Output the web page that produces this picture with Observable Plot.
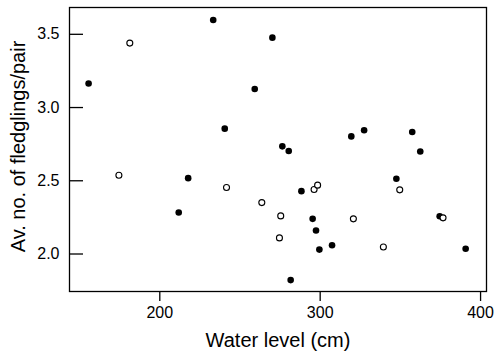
<!DOCTYPE html>
<html>
<head>
<meta charset="utf-8">
<script src="https://cdn.jsdelivr.net/npm/d3@7"></script>
<script src="https://cdn.jsdelivr.net/npm/@observablehq/plot@0.6"></script>
<style>
  html, body { margin: 0; padding: 0; background: #fff; }
  svg { display: block; }
</style>
</head>
<body>
<div id="chart"></div>
<script>
// Filled circles
const filledX = [155.6, 233.3, 240.5, 217.7, 270.2, 259.2, 276.4, 280.4, 319.4, 327.4, 357.4, 362.4, 347.5, 211.8, 288.3, 295.3, 297.4, 299.5, 307.4, 281.6, 374.5, 390.7];
const filledY = [3.164, 3.598, 2.856, 2.518, 3.477, 3.127, 2.735, 2.703, 2.803, 2.845, 2.833, 2.70, 2.514, 2.283, 2.429, 2.24, 2.16, 2.03, 2.06, 1.822, 2.258, 2.036];
// Open circles
const openX = [181.3, 174.5, 241.6, 349.6, 263.6, 296.2, 298.4, 275.4, 274.6, 320.7, 339.4, 376.6];
const openY = [3.44, 2.538, 2.454, 2.438, 2.351, 2.44, 2.47, 2.26, 2.11, 2.24, 2.048, 2.247];

const xTicks = [200, 300, 400];
const yTicks = [2.0, 2.5, 3.0, 3.5];
const xLabel = "Water level (cm)";
const yLabel = "Av. no. of fledglings/pair";

const filled = filledX.map((x, i) => ({x, y: filledY[i]}));
const open = openX.map((x, i) => ({x, y: openY[i]}));

const W = 500, H = 355;
const mL = 69, mR = 14, mT = 7, mB = 64;
const plotW = W - mL - mR;

const chart = Plot.plot({
  width: W,
  height: H,
  marginLeft: mL,
  marginRight: mR,
  marginTop: mT,
  marginBottom: mB,
  style: {fontFamily: "'Liberation Sans', Arial, Helvetica, sans-serif", background: "#fff", color: "#000"},
  x: {domain: [143.7, 403.7]},
  y: {domain: [1.744, 3.683]},
  marks: [
    Plot.frame({stroke: "#000", strokeWidth: 1.3}),
    Plot.axisX({ticks: xTicks, tickSize: 10, tickPadding: 5, fontSize: 16, label: null, strokeWidth: 1.3}),
    Plot.axisY({ticks: yTicks, tickSize: 0, tickPadding: 10, fontSize: 16, label: null, tickFormat: d3.format(".1f")}),
    Plot.tickY(yTicks, {y: d => d, insetRight: plotW - 14, stroke: "#000", strokeWidth: 1.3}),
    Plot.dot(filled, {x: "x", y: "y", r: 3.3, fill: "#000", stroke: null}),
    Plot.dot(open, {x: "x", y: "y", r: 3, fill: "#fff", stroke: "#000", strokeWidth: 1.1}),
    Plot.text([xLabel], {text: d => d, frameAnchor: "bottom", dy: 49, fontSize: 20, lineAnchor: "middle", textAnchor: "middle", fill: "#000"}),
    Plot.text([yLabel], {text: d => d, frameAnchor: "left", dx: -51, dy: -3, rotate: -90, fontSize: 20, lineAnchor: "middle", textAnchor: "middle", fill: "#000"})
  ]
});
document.getElementById("chart").appendChild(chart);
</script>
</body>
</html>
